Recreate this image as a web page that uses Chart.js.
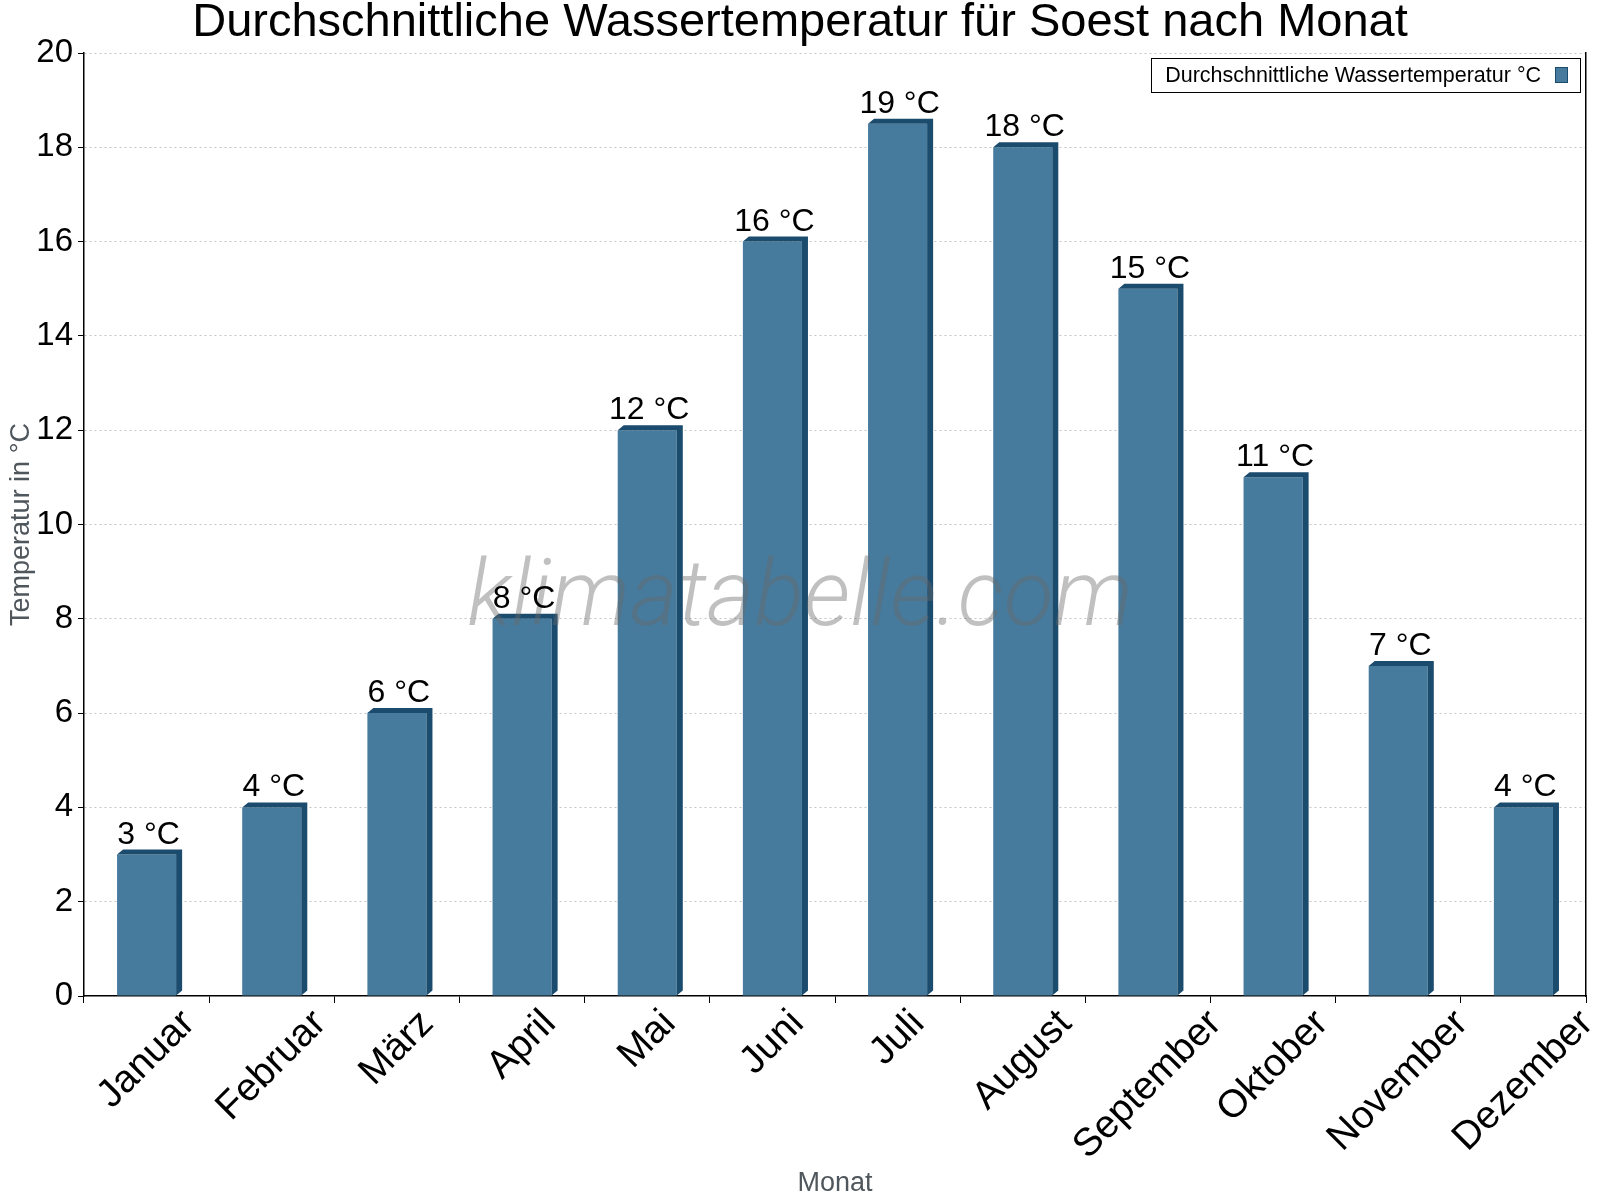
<!DOCTYPE html>
<html>
<head>
<meta charset="utf-8">
<script src="https://cdn.jsdelivr.net/npm/chart.js@4.4.1/dist/chart.umd.min.js"></script>
<style>
  html, body { margin: 0; padding: 0; background: #fff; }
  #wrap { width: 1600px; height: 1200px; position: relative; }
</style>
</head>
<body>
<div id="wrap"><canvas id="waterChart"></canvas></div>
<script>
const months = ["Januar", "Februar", "März", "April", "Mai", "Juni", "Juli",
                "August", "September", "Oktober", "November", "Dezember"];
const waterTemps = [3, 4, 6, 8, 12, 16, 18.5, 18, 15, 11, 7, 4];
const yTickValues = [0, 2, 4, 6, 8, 10, 12, 14, 16, 18, 20];

const chartTitle = "Durchschnittliche Wassertemperatur für Soest nach Monat";
const seriesName = "Durchschnittliche Wassertemperatur °C";
const xTitle = "Monat";
const yTitle = "Temperatur in °C";
const watermark = "klimatabelle.com";

const barBlue = "#467b9e";
const darkBlue = "#1b4b6d";
const axisGrey = "#4f565c";
const fontFamily = "'Liberation Sans', Arial, sans-serif";

Chart.defaults.font.family = fontFamily;

// rotated month labels: centre them under their bar instead of right-aligning at the tick
const shiftLabels = {
    id: "shiftLabels",
    beforeDraw(chart) {
        const scale = chart.scales.x;
        const ctx = chart.ctx;
        ctx.save();
        scale.getLabelItems().forEach(item => {
            if (item._moved) return;
            ctx.font = item.font.string;
            item.options.translation[0] += ctx.measureText(item.label).width * 0.3536;
            item.options.translation[1] -= 2;
            item._moved = true;
        });
        ctx.restore();
    }
};

// fake 3d side/top faces, watermark, value labels and the boxed legend
const barExtras = {
    id: "barExtras",
    afterDatasetsDraw(chart) {
        const ctx = chart.ctx;
        const meta = chart.getDatasetMeta(0);
        const dx = 6, dy = 5;
        ctx.save();
        ctx.fillStyle = darkBlue;
        meta.data.forEach(bar => {
            const p = bar.getProps(["x", "y", "base", "width"], true);
            const l = p.x - p.width / 2, r = p.x + p.width / 2;
            ctx.beginPath();
            ctx.moveTo(l, p.y);
            ctx.lineTo(l + dx, p.y - dy);
            ctx.lineTo(r + dx, p.y - dy);
            ctx.lineTo(r + dx, p.base - dy);
            ctx.lineTo(r, p.base);
            ctx.lineTo(r, p.y);
            ctx.closePath();
            ctx.fill();
        });

        ctx.font = "italic 300 92px Roboto, " + fontFamily;
        ctx.fillStyle = "rgba(105,105,105,0.42)";
        ctx.textAlign = "center";
        ctx.textBaseline = "alphabetic";
        ctx.fillText(watermark, 800, 625);

        ctx.font = "32px " + fontFamily;
        ctx.fillStyle = "#000";
        meta.data.forEach((bar, i) => {
            const p = bar.getProps(["x", "y"], true);
            ctx.fillText(Math.round(waterTemps[i]) + " °C", p.x + 2, p.y - dy - 6);
        });
        ctx.restore();
    },
    afterDraw(chart) {
        const ctx = chart.ctx;
        const area = chart.chartArea;
        const right = area.right - 6, top = area.top + 5, h = 34;
        ctx.save();
        ctx.font = "21.5px " + fontFamily;
        const tw = ctx.measureText(seriesName).width;
        const left = right - 12 - 13 - 14 - tw - 14;
        ctx.fillStyle = "#fff";
        ctx.fillRect(left, top, right - left, h);
        ctx.strokeStyle = "#000";
        ctx.lineWidth = 1;
        ctx.strokeRect(Math.round(left) + 0.5, top + 0.5, Math.round(right - left), h);
        ctx.fillStyle = "#000";
        ctx.textAlign = "left";
        ctx.textBaseline = "middle";
        ctx.fillText(seriesName, left + 14, top + h / 2 + 1);
        ctx.fillStyle = barBlue;
        ctx.fillRect(right - 25, top + 9, 13, 16);
        ctx.strokeStyle = darkBlue;
        ctx.strokeRect(right - 25 + 0.5, top + 9 + 0.5, 12, 15);
        ctx.restore();
    }
};

const ctx = document.getElementById("waterChart").getContext("2d");

new Chart(ctx, {
    type: "bar",
    data: {
        labels: months,
        datasets: [{
            label: seriesName,
            data: waterTemps,
            backgroundColor: barBlue,
            borderWidth: 0,
            categoryPercentage: 1,
            barPercentage: 0.472
        }]
    },
    options: {
        responsive: true,
        maintainAspectRatio: false,
        animation: false,
        layout: {padding: 0, autoPadding: false},
        plugins: {
            title: {
                display: true,
                text: chartTitle,
                color: "#000",
                font: {size: 47, weight: "normal", lineHeight: 1},
                padding: {top: 0, bottom: 6}
            },
            legend: {display: false},
            tooltip: {enabled: false}
        },
        scales: {
            x: {
                grid: {display: true, drawOnChartArea: false, drawTicks: true, tickLength: 7, color: "#000", offset: true},
                border: {display: true, color: "#000", width: 1.5},
                ticks: {color: "#000", font: {size: 39}, minRotation: 45, maxRotation: 45, padding: 0, autoSkip: false},
                title: {display: true, text: xTitle, color: axisGrey, font: {size: 27}, padding: 0},
                afterFit(scale) { scale.height = 204; }
            },
            y: {
                min: 0,
                max: 20,
                afterBuildTicks(scale) { scale.ticks = yTickValues.map(v => ({value: v})); },
                grid: {
                    color: c => (c.tick && c.tick.value === 0) ? "rgba(0,0,0,0)" : "#c4c4c4",
                    tickColor: "#000",
                    tickLength: 6,
                    lineWidth: 1
                },
                border: {display: true, color: "#000", width: 1.5, dash: [2, 3]},
                ticks: {color: "#000", font: {size: 33}, padding: 5},
                title: {display: true, text: yTitle, color: axisGrey, font: {size: 27}, padding: {top: 5, bottom: 0}},
                afterFit(scale) { scale.width = 84; }
            },
            y2: {
                position: "right",
                min: 0,
                max: 20,
                grid: {drawOnChartArea: false, drawTicks: false},
                ticks: {display: false},
                border: {display: true, color: "#000", width: 1.5},
                afterFit(scale) { scale.width = 14; }
            }
        }
    },
    plugins: [shiftLabels, barExtras]
});
</script>
</body>
</html>
